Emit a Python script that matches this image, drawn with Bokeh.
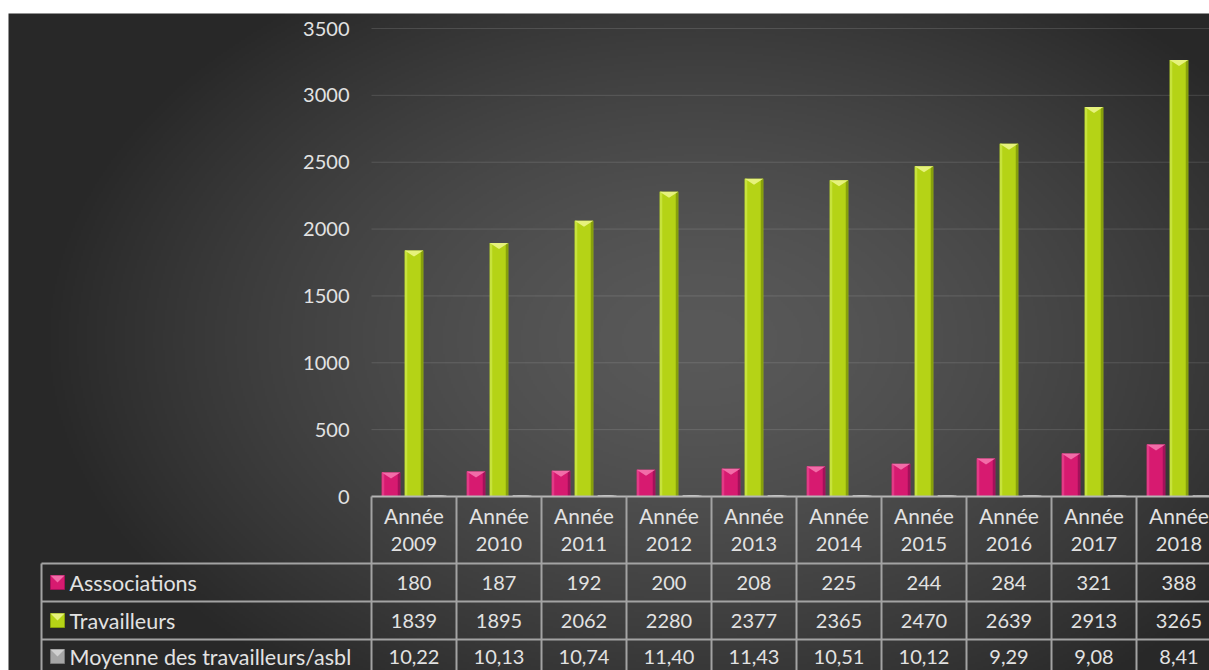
import numpy as np
from bokeh.plotting import figure
from bokeh.models import Range1d, ColumnDataSource
from bokeh.embed import file_html
from bokeh.resources import INLINE
from bokeh.core.properties import value

# ---------------- data ----------------
years = ["2009", "2010", "2011", "2012", "2013", "2014", "2015", "2016", "2017", "2018"]
header_word = "Année"
associations = [180, 187, 192, 200, 208, 225, 244, 284, 321, 388]
travailleurs = [1839, 1895, 2062, 2280, 2377, 2365, 2470, 2639, 2913, 3265]
moyenne = [10.22, 10.13, 10.74, 11.40, 11.43, 10.51, 10.12, 9.29, 9.08, 8.41]
series_names = ["Asssociations", "Travailleurs", "Moyenne des travailleurs/asbl"]
y_ticks = [0, 500, 1000, 1500, 2000, 2500, 3000, 3500]

# ---------------- layout helpers (page pixels -> data coords) ----------------
W, H = 1209, 670
OX, OY = 0, 0
CAT0, CATW = 413.5, 85.0          # centre of first category, category width (px)
Y0, K = 496.0, 468.0 / 3500.0     # pixel row of value 0, px per unit


def X(px):
    return (px - CAT0) / CATW


def Y(py):
    return (Y0 - py) / K


FONT = value("Lato")
TXT = "#e2e2e2"
LINE = "#a3a3a3"
NUM_SIZE = "20px"
LAB_SIZE = "22px"

p = figure(width=W, height=H,
           x_range=Range1d(X(OX), X(OX + W)), y_range=Range1d(Y(OY + H), Y(OY)),
           output_backend="svg", toolbar_location=None,
           x_axis_type=None, y_axis_type=None, min_border=0,
           outline_line_color=None, background_fill_color="white",
           border_fill_color="white")
p.xgrid.visible = False
p.ygrid.visible = False

# ---------------- radial gradient background ----------------
gx0, gx1, gy0, gy1 = 8, 1209, 13, 670
nx, ny = 601, 329
pxs = gx0 + (np.arange(nx) + 0.5) * (gx1 - gx0) / nx
pys = gy0 + (np.arange(ny) + 0.5) * (gy1 - gy0) / ny
PX, PY = np.meshgrid(pxs, pys)
r = np.sqrt(((PX - 700) / 660.0) ** 2 + ((PY - 340) / 430.0) ** 2)
r = np.clip(r, 0, 1)
g = (40 + 49 * (1 - r ** 1.5)).astype(np.uint8)
g = g[::-1, :]
img = np.empty((ny, nx), dtype=np.uint32)
view = img.view(dtype=np.uint8).reshape((ny, nx, 4))
view[..., 0] = g
view[..., 1] = g
view[..., 2] = g
view[..., 3] = 255
p.image_rgba(image=[img], x=X(gx0), y=Y(gy1), dw=X(gx1) - X(gx0), dh=Y(gy0) - Y(gy1))

# ---------------- gridlines ----------------
grid_vals = [t for t in y_ticks if t > 0]
p.segment(x0=[X(371)] * len(grid_vals), y0=grid_vals,
          x1=[X(1209)] * len(grid_vals), y1=grid_vals,
          line_color="white", line_alpha=0.13, line_width=1)

# y tick labels
p.text(x=[X(349)] * len(y_ticks), y=y_ticks, text=[str(t) for t in y_ticks],
       text_font=FONT, text_font_size=NUM_SIZE, text_color=TXT,
       text_align="right", text_baseline="middle")

# ---------------- bars ----------------
idx = np.arange(len(years))
bw = 18.5 / CATW
offsets = [-23.0 / CATW, 0.0, 23.0 / CATW]
styles = [
    # main, top-triangle, left strip, right strip
    ("#d71a70", "#f26ca8", "#e33a86", "#a3115a"),
    ("#b5d316", "#e6f27c", "#c7e23c", "#87a00c"),
    ("#a6a6a6", "#d0d0d0", "#b8b8b8", "#7a7a7a"),
]
tri_h = 6.0 / K
strip = 2.5 / CATW
for vals, off, (cm, ct, cl, cr) in zip([associations, travailleurs, moyenne], offsets, styles):
    xs = idx + off
    src = ColumnDataSource(dict(x=xs, top=vals))
    p.vbar(x="x", top="top", bottom=0, width=bw, source=src,
           fill_color=cm, line_color=None)
    p.vbar(x=xs - bw / 2 + strip / 2, top=vals, bottom=0, width=strip,
           fill_color=cl, line_color=None)
    p.vbar(x=xs + bw / 2 - strip / 2, top=vals, bottom=0, width=strip,
           fill_color=cr, line_color=None)
    tri_xs = [[x - bw / 2, x + bw / 2, x] for x in xs]
    tri_ys = [[v, v, v - min(tri_h, v)] for v in vals]
    p.patches(xs=tri_xs, ys=tri_ys, fill_color=ct, line_color=None)

# ---------------- data table ----------------
row_top = [563, 601, 639]
row_mid = [582, 620, 656]
# horizontal lines
p.segment(x0=[X(371)], y0=[Y(496)], x1=[X(1209)], y1=[Y(496)],
          line_color="#b5b5b5", line_width=2)
p.segment(x0=[X(41)] * 3, y0=[Y(v) for v in row_top],
          x1=[X(1209)] * 3, y1=[Y(v) for v in row_top],
          line_color=LINE, line_width=2)
# vertical lines
vx = [X(371 + CATW * i) for i in range(len(years))]
p.segment(x0=vx, y0=[Y(496)] * len(vx), x1=vx, y1=[Y(670)] * len(vx),
          line_color=LINE, line_width=2)
p.segment(x0=[X(41)], y0=[Y(563)], x1=[X(41)], y1=[Y(670)],
          line_color=LINE, line_width=2)

# header
p.text(x=idx, y=[Y(515)] * len(years), text=[header_word] * len(years),
       text_font=FONT, text_font_size="21px", text_color=TXT,
       text_align="center", text_baseline="middle")
p.text(x=idx, y=[Y(543)] * len(years), text=years,
       text_font=FONT, text_font_size=NUM_SIZE, text_color=TXT,
       text_align="center", text_baseline="middle")

row_texts = [[str(v) for v in associations],
             [str(v) for v in travailleurs],
             [f"{v:.2f}".replace(".", ",") for v in moyenne]]
for rm, texts in zip(row_mid, row_texts):
    p.text(x=idx, y=[Y(rm)] * len(texts), text=texts,
           text_font=FONT, text_font_size=NUM_SIZE, text_color=TXT,
           text_align="center", text_baseline="middle")

# series labels + keys
p.text(x=[X(69)] * 3, y=[Y(v) for v in row_mid], text=series_names,
       text_font=FONT, text_font_size="21.5px", text_color=TXT,
       text_align="left", text_baseline="middle")
kw, kh = 14.0 / CATW, 14.0 / K
for rm, (cm, ct, cl, cr) in zip(row_mid, styles):
    cx, cy = X(57), Y(rm)
    p.rect(x=[cx], y=[cy], width=kw, height=kh, fill_color=cm, line_color=cr, line_width=1)
    p.patches(xs=[[cx - kw / 2, cx + kw / 2, cx]], ys=[[cy + kh / 2, cy + kh / 2, cy]],
              fill_color=ct, line_color=None)

open("out.html", "w").write(file_html(p, INLINE))
